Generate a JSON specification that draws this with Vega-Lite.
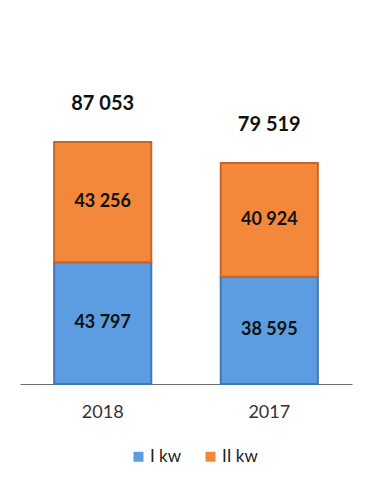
{
  "$schema": "https://vega.github.io/schema/vega-lite/v6.json",
  "width": 332,
  "height": 278,
  "autosize": {"type": "none"},
  "padding": {"left": 20, "top": 106, "right": 19, "bottom": 104},
  "background": "white",
  "config": {
    "view": {"stroke": null},
    "font": "Lato",
    "locale": {"number": {"decimal": ",", "thousands": " ", "grouping": [3], "currency": ["", ""]}}
  },
  "data": {
    "values": [
      {"year": "2018", "series": "I kw", "value": 43797},
      {"year": "2018", "series": "II kw", "value": 43256},
      {"year": "2017", "series": "I kw", "value": 38595},
      {"year": "2017", "series": "II kw", "value": 40924}
    ]
  },
  "encoding": {
    "x": {
      "field": "year", "type": "nominal", "sort": ["2018", "2017"],
      "scale": {"paddingInner": 0.417, "paddingOuter": 0.205},
      "axis": {"title": null, "labelAngle": 0, "ticks": false, "domainColor": "#6f6f6f", "domainWidth": 1.2, "labelFontSize": 18, "labelColor": "#333333", "labelPadding": 19, "labelFont": "Lato"}
    }
  },
  "layer": [
    {
      "mark": {"type": "bar", "strokeWidth": 2},
      "encoding": {
        "y": {"field": "value", "type": "quantitative", "stack": "zero", "scale": {"domain": [0, 100000]}, "axis": null},
        "color": {
          "field": "series", "type": "nominal",
          "scale": {"domain": ["I kw", "II kw"], "range": ["#5b9de0", "#f3883a"]},
          "legend": {"title": null, "orient": "none", "legendX": 110, "legendY": 342, "direction": "horizontal", "symbolType": "square", "symbolSize": 100, "labelFontSize": 17, "labelColor": "#222222", "columnPadding": 20, "symbolStrokeWidth": 0, "labelOffset": 3}
        },
        "stroke": {
          "field": "series", "type": "nominal",
          "scale": {"domain": ["I kw", "II kw"], "range": ["#3f78b5", "#c7642a"]},
          "legend": null
        },
        "order": {"field": "series", "type": "nominal", "sort": "ascending"}
      }
    },
    {
      "mark": {"type": "text", "fontSize": 18, "fontWeight": "bold", "color": "#111111", "font": "Lato"},
      "encoding": {
        "y": {"field": "value", "type": "quantitative", "stack": "zero", "bandPosition": 0.5},
        "text": {"field": "value", "type": "quantitative", "format": ",d"},
        "order": {"field": "series", "type": "nominal", "sort": "ascending"},
        "detail": {"field": "series"}
      }
    },
    {
      "transform": [{"aggregate": [{"op": "sum", "field": "value", "as": "total"}], "groupby": ["year"]}],
      "mark": {"type": "text", "fontSize": 20, "fontWeight": "bold", "color": "#111111", "dy": -38, "font": "Lato"},
      "encoding": {
        "y": {"field": "total", "type": "quantitative"},
        "text": {"field": "total", "type": "quantitative", "format": ",d"}
      }
    }
  ]
}
